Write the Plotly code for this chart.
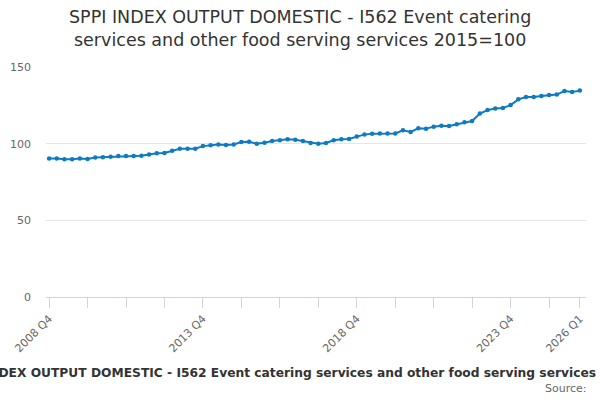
import plotly.graph_objects as go

# quarterly SPPI index, 2008 Q4 .. 2026 Q1 (2015=100)
quarters = []
for yr in range(2008, 2027):
    for q in range(1, 5):
        lab = f"{yr} Q{q}"
        if (yr, q) >= (2008, 4) and (yr, q) <= (2026, 1):
            quarters.append(lab)

index_values = [
    90.4, 90.4, 89.8, 89.8, 90.4, 90.0, 90.9, 91.1, 91.5, 91.9,
    91.9, 91.9, 92.2, 93.0, 93.7, 93.9, 95.4, 96.7, 96.7, 96.7,
    98.4, 98.9, 99.5, 99.1, 99.5, 101.1, 101.3, 100.0, 100.6, 101.7,
    102.2, 102.8, 102.6, 101.7, 100.4, 100.0, 100.4, 102.2, 102.8, 103.0,
    104.6, 105.9, 106.5, 106.7, 106.7, 106.7, 108.7, 107.6, 110.0, 109.8,
    111.1, 111.7, 111.5, 112.6, 113.9, 114.8, 119.6, 121.9, 123.0, 123.2,
    125.2, 128.9, 130.4, 130.4, 131.1, 131.7, 132.0, 134.3, 133.7, 134.6,
]

series_name = "SPPI INDEX OUTPUT DOMESTIC - I562 Event catering services and other food serving services 2015=100"
chart_title = "SPPI INDEX OUTPUT DOMESTIC - I562 Event catering<br>services and other food serving services 2015=100"
labelled = ["2008 Q4", "2013 Q4", "2018 Q4", "2023 Q4", "2026 Q1"]

# tick every 5 quarters plus the last one, text only on some
tick_vals = quarters[::5] + [quarters[-1]]
tick_text = [q if q in labelled else "" for q in tick_vals]

fig = go.Figure()
fig.add_trace(go.Scatter(
    x=quarters, y=index_values, mode="lines+markers",
    name=series_name,
    line=dict(color="#0d7bc4", width=2),
    marker=dict(size=4.5, color="#0d7bc4"),
))

fig.update_layout(
    width=600, height=400,
    margin=dict(l=46, r=14, t=67, b=103, autoexpand=False),
    paper_bgcolor="white", plot_bgcolor="white",
    font=dict(family="DejaVu Sans", color="#666666", size=11),
    showlegend=False,
)

fig.update_xaxes(
    type="category", range=[-0.4, 69.8], automargin=False,
    tickmode="array", tickvals=tick_vals, ticktext=tick_text,
    tickangle=-45, ticks="outside", ticklen=10, tickcolor="#ccd6eb",
    showline=True, linecolor="#ccd6eb", linewidth=1,
    showgrid=False, tickfont=dict(size=11, color="#666666"),
)
fig.update_yaxes(
    range=[0, 150], tickvals=[0, 50, 100, 150], automargin=False,
    showgrid=True, gridcolor="#e6e6e6", zeroline=False,
    ticks="", ticklabelstandoff=14, tickfont=dict(size=11, color="#666666"),
)

# title as an annotation, so both lines sit where we want them
fig.add_annotation(
    text=chart_title, xref="paper", yref="paper",
    x=(300 - 46) / 540, y=1 + (67 - 52) / 230, xanchor="center", yanchor="bottom",
    showarrow=False, font=dict(size=17.5, color="#333333"),
)

# legend text (runs off both sides like the original) and source line
fig.add_annotation(
    text="<b>" + series_name + "</b>", xref="paper", yref="paper",
    x=(-54 - 46) / 540, y=-0.330, xanchor="left", yanchor="middle",
    showarrow=False, font=dict(size=12.25, color="#333333"),
)
fig.add_annotation(
    text="Source:", xref="paper", yref="paper",
    x=(589 - 46) / 540, y=-0.396, xanchor="right", yanchor="middle",
    showarrow=False, font=dict(size=11, color="#666666"),
)

fig.write_html("out.html", config={"displayModeBar": False},
               post_script="document.body.style.margin='0';")
